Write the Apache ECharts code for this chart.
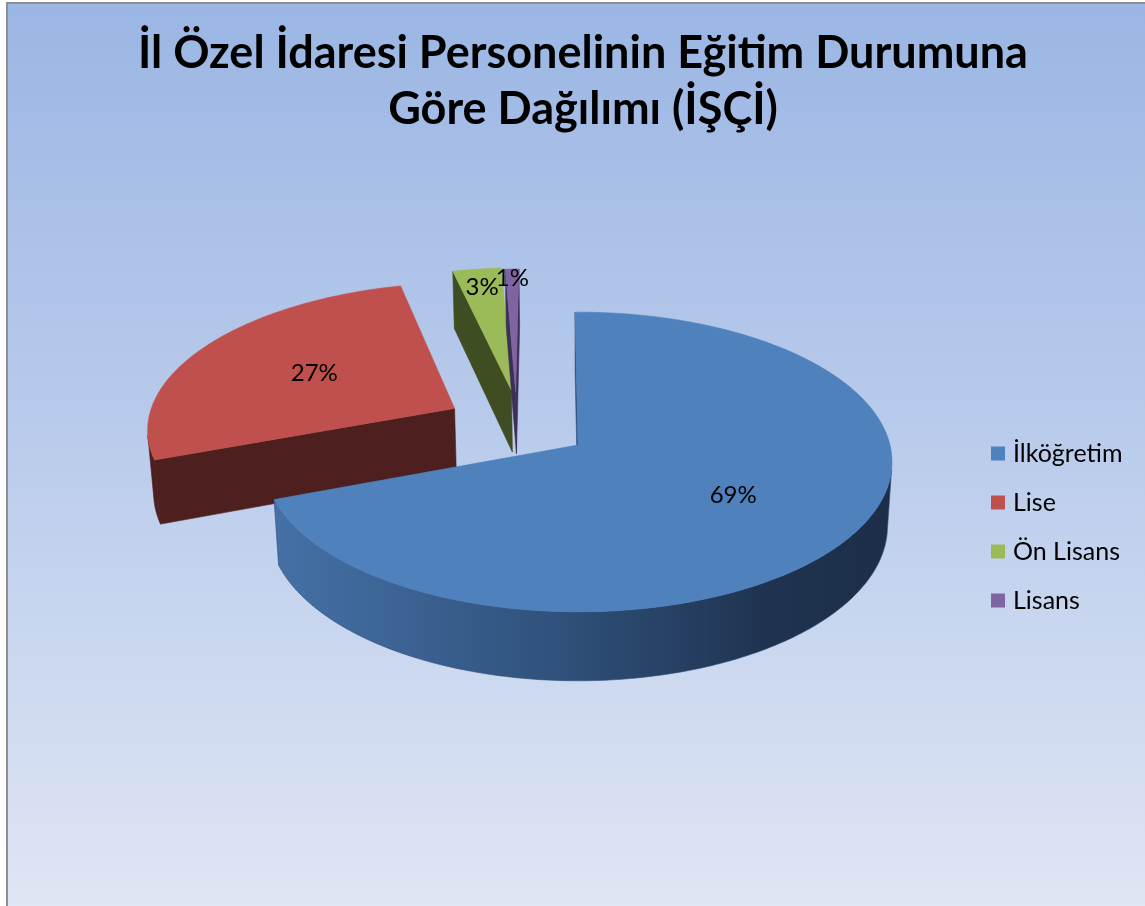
<!DOCTYPE html>
<html>
<head>
<meta charset="utf-8">
<script src="https://cdn.jsdelivr.net/npm/echarts@6/dist/echarts.min.js"></script>
<style>
  html, body { margin: 0; padding: 0; background: #fff; }
  #chart { width: 1145px; height: 906px; }
</style>
</head>
<body>
<div id="chart"></div>
<script>
// data
const categories = ['İlköğretim', 'Lise', 'Ön Lisans', 'Lisans']
const values = [69.4, 26.9, 2.9, 0.8]

// style
const topColors = ['#4f81bd', '#c0504d', '#9bbb59', '#8064a2']
const sideColors = ['#2f4f78', '#4d1f1f', '#3f4d22', '#3c2f55']
const explodeDist = [0, 0.48, 0.445, 0.43]
const explodeDir = [0, 302, 330, 331]
const labelRadius = [0.58, 0.55, 0.84, 0.92]
const startOffset = -0.6
const FONT = 'Lato'

// fake 3D view (pie lies flat, camera tilted down)
const view = { cx: 578, cy: 445, f: 2424, D: 7.77, tilt: 28.3 * Math.PI / 180, depth: 0.235 }
const ca = Math.cos(view.tilt), sa = Math.sin(view.tilt)
const camX = 0, camZ = view.D * ca

const project = (X, Y, Z) => {
    const u = Y * ca - Z * sa
    const c = Y * sa + Z * ca
    const d = view.D - c
    return [view.cx + view.f * X / d, view.cy - view.f * u / d]
}
const rad = a => a * Math.PI / 180

const total = values.reduce((s, v) => s + v, 0)
const startAngles = []
let acc = 0
values.forEach(v => { startAngles.push(startOffset + acc / total * 360); acc += v })

const buildSlice = (i) => {
    const a0 = startAngles[i]
    const a1 = a0 + values[i] / total * 360
    const ox = explodeDist[i] * Math.sin(rad(explodeDir[i]))
    const oz = -explodeDist[i] * Math.cos(rad(explodeDir[i]))
    const h = view.depth
    const pt = (t, r, Y) => project(ox + r * Math.sin(rad(t)), Y, oz - r * Math.cos(rad(t)))
    const faces = []

    // outer wall, only the runs that face the camera
    const steps = Math.max(2, Math.ceil(a1 - a0))
    let run = []
    const flush = () => {
        if (run.length > 1) {
            const topPts = run.map(t => pt(t, 1, 0))
            const botPts = run.map(t => pt(t, 1, -h)).reverse()
            faces.push({ points: topPts.concat(botPts), kind: 'wall' })
        }
        run = []
    }
    for (let k = 0; k <= steps; k++) {
        const t = a0 + (a1 - a0) * k / steps
        const nx = Math.sin(rad(t)), nz = -Math.cos(rad(t))
        const px = ox + nx, pz = oz + nz
        const vis = nx * (camX - px) + nz * (camZ - pz) > 0
        if (vis) run.push(t)
        else { if (run.length) run.push(t); flush() }
    }
    flush()

    // cut faces; the almost edge-on one still leaves a thin dark seam
    const edge = (t, nAng) => {
        const nx = Math.sin(rad(nAng)), nz = -Math.cos(rad(nAng))
        const dot = nx * (camX - ox) + nz * (camZ - oz)
        if (dot <= 0) {
            if (dot > -0.2) faces.push({ points: [pt(t, 1, 0), project(ox, 0, oz)], kind: 'seam' })
            return
        }
        faces.push({
            points: [project(ox, 0, oz), pt(t, 1, 0), pt(t, 1, -h), project(ox, -h, oz)],
            kind: 'edge'
        })
    }
    edge(a0, a0 - 90)
    edge(a1, a1 + 90)

    // top face
    const topPts = [project(ox, 0, oz)]
    for (let k = 0; k <= steps; k++) topPts.push(pt(a0 + (a1 - a0) * k / steps, 1, 0))
    faces.push({ points: topPts, kind: 'top' })

    const mid = (a0 + a1) / 2
    const lp = pt(mid, labelRadius[i], 0)
    return { faces, label: lp, pct: Math.round(values[i] / total * 100) + '%' }
}

const wallFill = (i) => {
    if (i === 0) {
        return new echarts.graphic.LinearGradient(0, 0, 1, 0, [
            { offset: 0, color: '#4571a7' },
            { offset: 0.45, color: '#30527c' },
            { offset: 0.8, color: '#1f3350' },
            { offset: 1, color: '#1c2e48' }
        ])
    }
    return sideColors[i]
}

const renderSlice = (params, api) => {
    const i = params.seriesIndex
    const s = buildSlice(i)
    const children = s.faces.map(fc => {
        if (fc.kind === 'seam') {
            return {
                type: 'polyline',
                shape: { points: fc.points.map(p => [p[0] - 0.5, p[1]]) },
                style: { stroke: '#1f3350', lineWidth: 3, fill: null }
            }
        }
        const fill = fc.kind === 'top' ? topColors[i] : (fc.kind === 'wall' ? wallFill(i) : sideColors[i])
        return {
            type: 'polygon',
            shape: { points: fc.points },
            style: { fill: fill, stroke: fc.kind === 'top' ? topColors[i] : sideColors[i], lineWidth: 0.6 }
        }
    })
    children.push({
        type: 'text',
        x: s.label[0],
        y: s.label[1],
        style: {
            text: s.pct,
            fill: '#000',
            fontSize: 24,
            fontFamily: FONT,
            align: 'center',
            verticalAlign: 'middle'
        }
    })
    return { type: 'group', children }
}

const seriesZ = [5, 4, 2, 3]

const chart = echarts.init(document.getElementById('chart'), null, { renderer: 'canvas' })
chart.setOption({
    backgroundColor: '#ffffff',
    animation: false,
    graphic: [{
        type: 'rect',
        z: -10,
        shape: { x: 7, y: 3, width: 1160, height: 930 },
        style: {
            fill: new echarts.graphic.LinearGradient(0, 0, 0, 1, [
                { offset: 0, color: '#9bb6e4' },
                { offset: 0.5, color: '#bccdec' },
                { offset: 0.97, color: '#dfe6f4' },
                { offset: 1, color: '#e0e7f4' }
            ]),
            stroke: '#8e8e8e',
            lineWidth: 2
        }
    }],
    title: {
        text: 'İl Özel İdaresi Personelinin Eğitim Durumuna\nGöre Dağılımı (İŞÇİ)',
        left: 578,
        top: 20,
        textAlign: 'center',
        textStyle: {
            fontFamily: FONT,
            fontWeight: 'bold',
            fontSize: 45,
            lineHeight: 56,
            color: '#000'
        }
    },
    legend: {
        orient: 'vertical',
        left: 991,
        top: 441,
        padding: 0,
        itemWidth: 14,
        itemHeight: 14,
        itemGap: 24,
        icon: 'rect',
        data: categories,
        textStyle: { fontFamily: FONT, fontSize: 25, lineHeight: 24, color: '#000', padding: [0, 0, 0, 3] }
    },
    series: categories.map((name, i) => ({
        type: 'custom',
        name: name,
        coordinateSystem: 'none',
        z: seriesZ[i],
        itemStyle: { color: topColors[i] },
        renderItem: renderSlice,
        data: [values[i]]
    }))
})
</script>
</body>
</html>
